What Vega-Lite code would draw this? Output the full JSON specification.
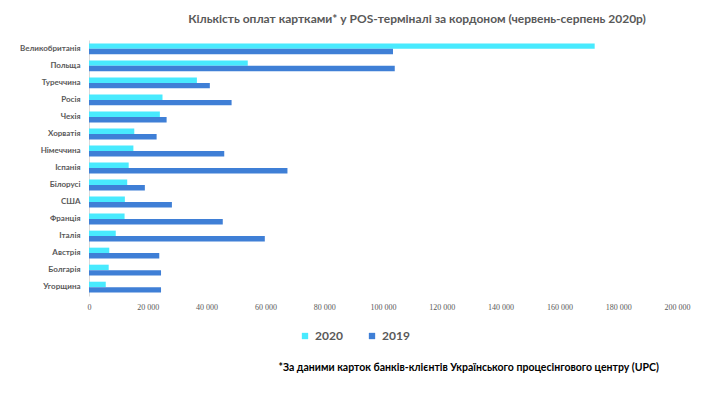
{
  "$schema": "https://vega.github.io/schema/vega-lite/v6.json",
  "width": 588,
  "height": 256,
  "autosize": {"type": "none"},
  "padding": {"left": 89, "top": 40, "right": 43, "bottom": 103},
  "background": "white",
  "title": {
    "text": "Кількість оплат картками* у POS-терміналі за кордоном (червень-серпень 2020р)",
    "font": "Lato",
    "fontSize": 12,
    "fontWeight": "bold",
    "color": "#595959",
    "anchor": "middle",
    "frame": "group",
    "dx": 34,
    "offset": 14
  },
  "data": {
    "values": [
      {"country": "Великобританія", "year": "2020", "value": 172000},
      {"country": "Великобританія", "year": "2019", "value": 103400},
      {"country": "Польща", "year": "2020", "value": 54000},
      {"country": "Польща", "year": "2019", "value": 104000},
      {"country": "Туреччина", "year": "2020", "value": 36700},
      {"country": "Туреччина", "year": "2019", "value": 41100},
      {"country": "Росія", "year": "2020", "value": 25000},
      {"country": "Росія", "year": "2019", "value": 48500},
      {"country": "Чехія", "year": "2020", "value": 24100},
      {"country": "Чехія", "year": "2019", "value": 26400},
      {"country": "Хорватія", "year": "2020", "value": 15400},
      {"country": "Хорватія", "year": "2019", "value": 23000},
      {"country": "Німеччина", "year": "2020", "value": 15100},
      {"country": "Німеччина", "year": "2019", "value": 46000},
      {"country": "Іспанія", "year": "2020", "value": 13500},
      {"country": "Іспанія", "year": "2019", "value": 67500},
      {"country": "Білорусі", "year": "2020", "value": 13000},
      {"country": "Білорусі", "year": "2019", "value": 19000},
      {"country": "США", "year": "2020", "value": 12200},
      {"country": "США", "year": "2019", "value": 28200},
      {"country": "Франція", "year": "2020", "value": 12100},
      {"country": "Франція", "year": "2019", "value": 45500},
      {"country": "Італія", "year": "2020", "value": 9100},
      {"country": "Італія", "year": "2019", "value": 59800},
      {"country": "Австрія", "year": "2020", "value": 6900},
      {"country": "Австрія", "year": "2019", "value": 23900},
      {"country": "Болгарія", "year": "2020", "value": 6700},
      {"country": "Болгарія", "year": "2019", "value": 24500},
      {"country": "Угорщина", "year": "2020", "value": 5700},
      {"country": "Угорщина", "year": "2019", "value": 24500}
    ]
  },
  "mark": {"type": "bar"},
  "encoding": {
    "y": {
      "field": "country",
      "type": "nominal",
      "sort": ["Великобританія", "Польща", "Туреччина", "Росія", "Чехія", "Хорватія", "Німеччина", "Іспанія", "Білорусі", "США", "Франція", "Італія", "Австрія", "Болгарія", "Угорщина"],
      "scale": {"paddingInner": 0.36, "paddingOuter": 0.2},
      "axis": {
        "title": null,
        "labelFont": "Lato",
        "labelFontSize": 8,
        "labelFontWeight": "bold",
        "labelColor": "#595959",
        "labelPadding": 9,
        "ticks": false,
        "domainColor": "#d9d9d9"
      }
    },
    "yOffset": {"field": "year", "type": "nominal", "sort": ["2020", "2019"], "scale": {"paddingInner": 0, "paddingOuter": 0}},
    "x": {
      "field": "value",
      "type": "quantitative",
      "scale": {"domain": [0, 200000], "nice": false},
      "axis": {
        "values": [0, 20000, 40000, 60000, 80000, 100000, 120000, 140000, 160000, 180000, 200000],
        "labelExpr": "replace(format(datum.value, ','), ',', ' ')",
        "labelFont": "Liberation Sans Narrow",
        "labelFontSize": 8,
        "labelColor": "#595959",
        "labelPadding": 7,
        "labelFlush": false,
        "labelOverlap": false,
        "domain": false,
        "ticks": false,
        "grid": false,
        "title": "*За даними карток банків-клієнтів Українського процесінгового центру (UPC)",
        "titleFont": "Lato",
        "titleFontSize": 10.5,
        "titleFontWeight": "bold",
        "titleColor": "#000000",
        "titleAnchor": "start",
        "titleAlign": "left",
        "titleX": 189,
        "titleY": 66
      }
    },
    "color": {
      "field": "year",
      "type": "nominal",
      "sort": ["2020", "2019"],
      "scale": {"domain": ["2020", "2019"], "range": ["#48EAFE", "#3F7FD6"]},
      "legend": {
        "title": null,
        "orient": "none",
        "legendX": 210,
        "legendY": 290,
        "direction": "horizontal",
        "symbolType": "square",
        "symbolSize": 40,
        "symbolStrokeWidth": 0,
        "labelFont": "Lato",
        "labelFontSize": 12,
        "labelFontWeight": "bold",
        "labelColor": "#595959",
        "columnPadding": 23,
        "labelOffset": 4
      }
    }
  },
  "config": {"view": {"stroke": null}}
}
